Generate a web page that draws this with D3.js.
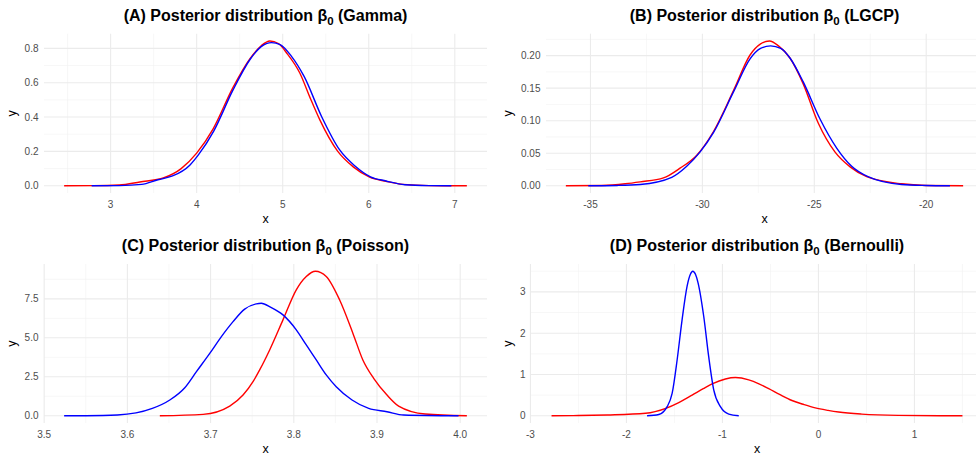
<!DOCTYPE html>
<html>
<head>
<meta charset="utf-8">
<script src="https://cdn.jsdelivr.net/npm/d3@7"></script>
<style>
  html, body { margin: 0; padding: 0; background: #ffffff; }
  svg { display: block; }
</style>
</head>
<body>
<div id="chart"></div>
<script>
// ---------------- DATA ----------------
const panelLetters = ["A", "B", "C", "D"];
const panelModels = ["Gamma", "LGCP", "Poisson", "Bernoulli"];

// Panel A (Gamma)
const gammaRed = [[2.46,0],[2.80,0.0005],[3.10,0.004],[3.34,0.022],[3.62,0.047],[3.82,0.10],[4.00,0.19],[4.19,0.33],[4.42,0.57],[4.62,0.74],[4.75,0.815],[4.85,0.843],[4.95,0.828],[5.05,0.77],[5.20,0.655],[5.32,0.51],[5.43,0.385],[5.64,0.20],[5.82,0.11],[6.01,0.05],[6.20,0.026],[6.40,0.008],[6.70,0.001],[7.14,0]];
const gammaBlue = [[2.78,0],[3.10,0.001],[3.36,0.008],[3.55,0.035],[3.72,0.057],[3.92,0.12],[4.02,0.18],[4.20,0.32],[4.42,0.555],[4.62,0.735],[4.75,0.81],[4.87,0.833],[4.97,0.822],[5.10,0.755],[5.25,0.635],[5.45,0.405],[5.66,0.21],[5.84,0.115],[6.02,0.052],[6.20,0.028],[6.42,0.006],[6.70,0.001],[6.96,0]];
const gammaXTicks = [3, 4, 5, 6, 7];
const gammaYTicks = [0, 0.2, 0.4, 0.6, 0.8];

// Panel B (LGCP)
const lgcpRed = [[-36.1,0],[-34.5,0.0005],[-33.45,0.003],[-32.78,0.006],[-31.74,0.012],[-31.0,0.027],[-30.25,0.047],[-29.51,0.083],[-28.6,0.147],[-27.87,0.201],[-27.4,0.218],[-27.0,0.2226],[-26.6,0.215],[-26.08,0.196],[-25.5,0.157],[-24.82,0.096],[-24.08,0.052],[-23.4,0.029],[-22.66,0.014],[-21.1,0.003],[-20.0,0.0005],[-18.35,0]];
const lgcpBlue = [[-35.1,0],[-33.8,0.0005],[-32.78,0.002],[-31.37,0.013],[-30.7,0.03],[-30.1,0.052],[-29.5,0.082],[-28.6,0.145],[-27.87,0.195],[-27.4,0.211],[-26.95,0.215],[-26.5,0.211],[-26.08,0.196],[-25.5,0.16],[-24.75,0.103],[-24.0,0.058],[-23.33,0.03],[-22.6,0.014],[-21.1,0.002],[-20.0,0.0005],[-18.94,0]];
const lgcpXTicks = [-35, -30, -25, -20];
const lgcpYTicks = [0, 0.05, 0.10, 0.15, 0.20];

// Panel C (Poisson)
const poissonRed = [[3.639,0],[3.691,0.09],[3.723,0.62],[3.739,1.33],[3.751,2.19],[3.759,2.94],[3.771,4.22],[3.787,6.15],[3.803,8.08],[3.815,8.93],[3.826,9.27],[3.839,8.93],[3.855,7.44],[3.871,5.3],[3.883,3.58],[3.896,2.4],[3.912,1.33],[3.926,0.62],[3.958,0.11],[4.008,0]];
const poissonBlue = [[3.524,0],[3.55,0.005],[3.588,0.05],[3.630,0.47],[3.651,1.01],[3.669,1.8],[3.683,2.83],[3.699,4.0],[3.713,5.08],[3.727,6.04],[3.741,6.84],[3.755,7.18],[3.761,7.22],[3.772,6.97],[3.787,6.47],[3.803,5.51],[3.815,4.54],[3.827,3.58],[3.839,2.62],[3.851,1.86],[3.870,1.01],[3.890,0.47],[3.912,0.26],[3.932,0.05],[3.998,0]];
const poissonXTicks = [3.5, 3.6, 3.7, 3.8, 3.9, 4.0];
const poissonYTicks = [0, 2.5, 5.0, 7.5];

// Panel D (Bernoulli)
const bernoulliRed = [[-2.78,0],[-2.5,0.005],[-2.2,0.02],[-1.80,0.06],[-1.59,0.18],[-1.455,0.32],[-1.316,0.50],[-1.2,0.655],[-1.108,0.77],[-0.969,0.89],[-0.865,0.925],[-0.726,0.87],[-0.62,0.775],[-0.518,0.655],[-0.40,0.51],[-0.276,0.37],[-0.15,0.27],[-0.033,0.19],[0.10,0.13],[0.21,0.09],[0.45,0.04],[0.83,0.01],[1.50,0]];
const bernoulliBlue = [[-1.785,0],[-1.663,0.03],[-1.576,0.22],[-1.524,0.54],[-1.472,1.35],[-1.42,2.33],[-1.368,3.14],[-1.335,3.42],[-1.309,3.50],[-1.28,3.42],[-1.254,3.22],[-1.195,2.41],[-1.143,1.43],[-1.09,0.62],[-1.021,0.22],[-0.934,0.04],[-0.83,0]];
const bernoulliXTicks = [-3, -2, -1, 0, 1];
const bernoulliYTicks = [0, 1, 2, 3];

const seriesColors = ["#FF0000", "#0000FF"];

// ---------------- LAYOUT ----------------
const W = 976, H = 456;
const layouts = [
  { left: 44,  right: 487, top: 33.7, bottom: 193, titleY: 20.7, yTitleX: 12 },
  { left: 546, right: 983, top: 33.7, bottom: 193, titleY: 20.7, yTitleX: 508 },
  { left: 44,  right: 487, top: 264,  bottom: 423, titleY: 250.7, yTitleX: 12 },
  { left: 531, right: 983, top: 264,  bottom: 423, titleY: 250.7, yTitleX: 508 }
];
const panelSeries = [
  [gammaRed, gammaBlue],
  [lgcpRed, lgcpBlue],
  [poissonRed, poissonBlue],
  [bernoulliRed, bernoulliBlue]
];
const xTickSets = [gammaXTicks, lgcpXTicks, poissonXTicks, bernoulliXTicks];
const yTickSets = [gammaYTicks, lgcpYTicks, poissonYTicks, bernoulliYTicks];
const loc = d3.formatLocale({ decimal: ".", thousands: ",", grouping: [3], currency: ["", ""], minus: "-" });
const yFormats = [loc.format(".1f"), loc.format(".2f"), loc.format(".1f"), loc.format("d")];
const xFormats = [loc.format("d"), loc.format("d"), loc.format(".1f"), loc.format("d")];

const FONT = "'Liberation Sans', Arial, Helvetica, sans-serif";

const svg = d3.select("#chart").append("svg")
  .attr("width", W).attr("height", H)
  .attr("viewBox", `0 0 ${W} ${H}`);
svg.append("rect").attr("width", W).attr("height", H).attr("fill", "#fff");

function expand(ext) {
  const d = ext[1] - ext[0];
  return [ext[0] - 0.05 * d, ext[1] + 0.05 * d];
}
function minorTicks(major, domain) {
  const step = major[1] - major[0];
  const out = [];
  const start = major[0] - step / 2;
  for (let i = -2; i < major.length + 2; i++) {
    const v = start + i * step;
    if (v >= domain[0] && v <= domain[1]) out.push(v);
  }
  return out;
}

panelLetters.forEach((letter, i) => {
  const L = layouts[i];
  const series = panelSeries[i];
  const all = series.flat();
  const xDom = expand(d3.extent(all, d => d[0]));
  const yDom = expand([0, d3.max(all, d => d[1])]);
  const x = d3.scaleLinear().domain(xDom).range([L.left, L.right]);
  const y = d3.scaleLinear().domain(yDom).range([L.bottom, L.top]);
  const g = svg.append("g");

  const xt = xTickSets[i], yt = yTickSets[i];
  const xMinor = minorTicks(xt, xDom), yMinor = minorTicks(yt, yDom);

  // minor grid
  g.selectAll(".xminor").data(xMinor).join("line")
    .attr("x1", d => x(d)).attr("x2", d => x(d))
    .attr("y1", L.top).attr("y2", L.bottom)
    .attr("stroke", "#F2F2F2").attr("stroke-width", 0.6);
  g.selectAll(".yminor").data(yMinor).join("line")
    .attr("y1", d => y(d)).attr("y2", d => y(d))
    .attr("x1", L.left).attr("x2", L.right)
    .attr("stroke", "#F2F2F2").attr("stroke-width", 0.6);
  // major grid
  g.selectAll(".xmajor").data(xt).join("line")
    .attr("x1", d => x(d)).attr("x2", d => x(d))
    .attr("y1", L.top).attr("y2", L.bottom)
    .attr("stroke", "#EBEBEB").attr("stroke-width", 1.1);
  g.selectAll(".ymajor").data(yt).join("line")
    .attr("y1", d => y(d)).attr("y2", d => y(d))
    .attr("x1", L.left).attr("x2", L.right)
    .attr("stroke", "#EBEBEB").attr("stroke-width", 1.1);

  // tick labels
  g.selectAll(".xlab").data(xt).join("text")
    .attr("x", d => x(d)).attr("y", L.bottom + 14.5)
    .attr("text-anchor", "middle")
    .attr("font-family", FONT).attr("font-size", 10).attr("fill", "#4D4D4D")
    .text(d => xFormats[i](d));
  g.selectAll(".ylab").data(yt).join("text")
    .attr("x", L.left - 5.5).attr("y", d => y(d))
    .attr("dy", "0.35em")
    .attr("text-anchor", "end")
    .attr("font-family", FONT).attr("font-size", 10).attr("fill", "#4D4D4D")
    .text(d => yFormats[i](d));

  // lines
  const line = d3.line().curve(d3.curveMonotoneX).x(d => x(d[0])).y(d => y(d[1]));
  series.forEach((s, k) => {
    g.append("path").datum(s)
      .attr("d", line)
      .attr("fill", "none")
      .attr("stroke", seriesColors[k])
      .attr("stroke-width", 1.4)
      .attr("stroke-linejoin", "round");
  });

  // axis titles
  g.append("text")
    .attr("x", (L.left + L.right) / 2)
    .attr("y", L.bottom + 29.5)
    .attr("text-anchor", "middle")
    .attr("font-family", FONT).attr("font-size", 12.5).attr("fill", "#000")
    .text("x");
  g.append("text")
    .attr("transform", `translate(${L.yTitleX + 4},${(L.top + L.bottom) / 2}) rotate(-90)`)
    .attr("text-anchor", "middle")
    .attr("font-family", FONT).attr("font-size", 12.5).attr("fill", "#000")
    .text("y");

  // title
  const t = g.append("text")
    .attr("x", (L.left + L.right) / 2).attr("y", L.titleY)
    .attr("text-anchor", "middle")
    .attr("font-family", FONT).attr("font-size", 16).attr("font-weight", "bold")
    .attr("fill", "#000");
  t.append("tspan").text(`(${letter}) Posterior distribution \u03B2`);
  t.append("tspan").attr("font-size", 11.5).attr("dy", 4).text("0");
  t.append("tspan").attr("dy", -4).text(` (${panelModels[i]})`);
});
</script>
</body>
</html>
